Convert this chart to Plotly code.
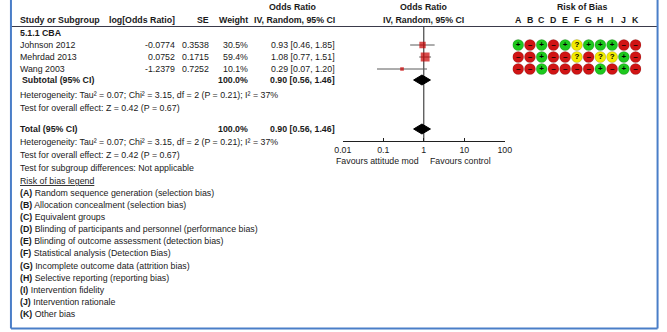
import plotly.graph_objects as go

W, H = 667, 332

# ---------------- data ----------------
group_label = "5.1.1 CBA"
studies = ["Johnson 2012", "Mehrdad 2013", "Wang 2003"]
log_or = [-0.0774, 0.0752, -1.2379]
se = [0.3538, 0.1715, 0.7252]
weight = [30.5, 59.4, 10.1]
or_est = [0.93, 1.08, 0.29]
ci_low = [0.46, 0.77, 0.07]
ci_high = [1.85, 1.51, 1.20]
subtotal = [0.90, 0.56, 1.46]   # estimate, low, high
total = [0.90, 0.56, 1.46]
subtotal_weight = 100.0
het_text = "Heterogeneity: Tau² = 0.07; Chi² = 3.15, df = 2 (P = 0.21); I² = 37%"
effect_text = "Test for overall effect: Z = 0.42 (P = 0.67)"
subgroup_text = "Test for subgroup differences: Not applicable"
axis_ticks = [0.01, 0.1, 1, 10, 100]
axis_tick_labels = ["0.01", "0.1", "1", "10", "100"]
favours_left = "Favours attitude mod"
favours_right = "Favours control"
rob_domains = ["A", "B", "C", "D", "E", "F", "G", "H", "I", "J", "K"]
rob = [
    ["+", "-", "+", "-", "+", "?", "+", "+", "+", "-", "-"],
    ["-", "-", "+", "-", "-", "?", "-", "?", "?", "+", "-"],
    ["-", "-", "+", "-", "-", "-", "-", "+", "-", "+", "-"],
]
legend_items = [
    "Random sequence generation (selection bias)",
    "Allocation concealment (selection bias)",
    "Equivalent groups",
    "Blinding of participants and personnel (performance bias)",
    "Blinding of outcome assessment (detection bias)",
    "Statistical analysis (Detection Bias)",
    "Incomplete outcome data (attrition bias)",
    "Selective reporting (reporting bias)",
    "Intervention fidelity",
    "Intervention rationale",
    "Other bias",
]

# ---------------- layout constants (pixels) ----------------
FONT = "Liberation Sans, Arial, sans-serif"
FS = 8.8
TXT = "#1a1a1a"
Y_HEAD1, Y_HEAD2, Y_GROUP = 7, 20, 33
Y_STUDY = [45, 57, 69]
Y_SUB, Y_HET, Y_EFF = 80, 95, 108
Y_TOT, Y_HET2, Y_EFF2, Y_SUBG, Y_LEG = 129, 142, 155, 168, 181
Y_ITEM0, ITEM_STEP = 193, 12.1
Y_AXIS = 141
X_LEFT = 10
X_LOG, X_SE, X_W, X_CI = 171, 206, 246, 335
ROB_COLORS = {"+": "#1ec81e", "-": "#d01414", "?": "#f2ea00"}
ROB_SYM = {"+": "+", "-": "–", "?": "?"}


def px(x):
    return x / W


def py(y):
    return 1 - y / H


annotations = []


def ann(text, x, y, anchor="left", bold=False, size=FS, color=TXT):
    if bold:
        text = "<b>" + text + "</b>"
    annotations.append(dict(
        text=text, x=px(x), y=py(y), xref="paper", yref="paper",
        xanchor=anchor, yanchor="middle", showarrow=False,
        font=dict(family=FONT, size=size, color=color), borderpad=0,
    ))


# headers
ann("Odds Ratio", 291, Y_HEAD1, "center", True)
ann("Odds Ratio", 425, Y_HEAD1, "center", True)
ann("Risk of Bias", 587, Y_HEAD1, "center", True)
ann("Study or Subgroup", X_LEFT, Y_HEAD2, "left", True)
ann("log[Odds Ratio]", X_LOG, Y_HEAD2, "right", True)
ann("SE", X_SE, Y_HEAD2, "right", True)
ann("Weight", X_W, Y_HEAD2, "right", True)
ann("IV, Random, 95% CI", X_CI, Y_HEAD2, "right", True)
ann("IV, Random, 95% CI", 425, Y_HEAD2, "center", True)
for d in rob_domains:
    annotations.append(dict(
        text="<b>" + d + "</b>", x=d, y=Y_HEAD2, xref="x2", yref="y",
        xanchor="center", yanchor="middle", showarrow=False,
        font=dict(family=FONT, size=FS, color=TXT)))

ann(group_label, X_LEFT, Y_GROUP, "left", True)
for i, s in enumerate(studies):
    y = Y_STUDY[i]
    ann(s, X_LEFT, y)
    ann(f"{log_or[i]:.4f}", X_LOG, y, "right")
    ann(f"{se[i]:.4f}", X_SE, y, "right")
    ann(f"{weight[i]:.1f}%", X_W, y, "right")
    ann(f"{or_est[i]:.2f} [{ci_low[i]:.2f}, {ci_high[i]:.2f}]", X_CI, y, "right")

ann("Subtotal (95% CI)", X_LEFT + 2, Y_SUB, "left", True)
ann(f"{subtotal_weight:.1f}%", X_W, Y_SUB, "right", True)
ann(f"{subtotal[0]:.2f} [{subtotal[1]:.2f}, {subtotal[2]:.2f}]", X_CI, Y_SUB, "right", True)
ann(het_text, X_LEFT, Y_HET)
ann(effect_text, X_LEFT, Y_EFF)

ann("Total (95% CI)", X_LEFT, Y_TOT, "left", True)
ann(f"{subtotal_weight:.1f}%", X_W, Y_TOT, "right", True)
ann(f"{total[0]:.2f} [{total[1]:.2f}, {total[2]:.2f}]", X_CI, Y_TOT, "right", True)
ann(het_text, X_LEFT, Y_HET2)
ann(effect_text, X_LEFT, Y_EFF2)
ann(subgroup_text, X_LEFT, Y_SUBG)
ann("<u>Risk of bias legend</u>", X_LEFT, Y_LEG)
for k, item in enumerate(legend_items):
    ann(f"<b>({rob_domains[k]})</b> {item}", X_LEFT, Y_ITEM0 + k * ITEM_STEP)

ann(favours_left, 421, 161, "right")
ann(favours_right, 430, 161, "left")

fig = go.Figure()

# reference line at OR = 1
fig.add_trace(go.Scatter(x=[1, 1], y=[27, Y_AXIS], mode="lines",
                         line=dict(color="#202020", width=1), hoverinfo="skip"))
# CIs and squares
for i in range(len(studies)):
    y = Y_STUDY[i]
    fig.add_trace(go.Scatter(x=[ci_low[i], ci_high[i]], y=[y, y], mode="lines",
                             line=dict(color="#5a5a5a", width=1), hoverinfo="skip"))
fig.add_trace(go.Scatter(
    x=or_est, y=Y_STUDY, mode="markers",
    marker=dict(symbol="square", color="#c80000", size=[1.15 * w ** 0.5 for w in weight],
                line=dict(width=0)), hoverinfo="skip"))

# diamonds
for est, yy in ((subtotal, Y_SUB), (total, Y_TOT)):
    fig.add_trace(go.Scatter(
        x=[est[1], est[0], est[2], est[0], est[1]],
        y=[yy, yy - 5, yy, yy + 5, yy], mode="lines", fill="toself",
        fillcolor="black", line=dict(color="black", width=1), hoverinfo="skip"))

# risk of bias circles
for r, row in enumerate(rob):
    fig.add_trace(go.Scatter(
        x=rob_domains, y=[Y_STUDY[r]] * len(row), xaxis="x2", yaxis="y",
        mode="markers+text", text=["<b>" + ROB_SYM[v] + "</b>" for v in row],
        textposition="middle center",
        textfont=dict(family=FONT, size=8, color="black"),
        marker=dict(symbol="circle", size=11, color=[ROB_COLORS[v] for v in row],
                    line=dict(width=0.6, color="rgba(0,0,0,0.25)")),
        hoverinfo="skip"))

BORDER = "#4a7ec8"
shapes = [
    dict(type="line", xref="paper", yref="paper", x0=px(2), x1=px(664), y0=py(26.5), y1=py(26.5),
         line=dict(color="#3a3a4a", width=1)),
    dict(type="line", xref="paper", yref="paper", x0=px(2), x1=px(2), y0=py(0), y1=py(328.5),
         line=dict(color=BORDER, width=2)),
    dict(type="line", xref="paper", yref="paper", x0=px(664.5), x1=px(664.5), y0=py(0), y1=py(328.5),
         line=dict(color=BORDER, width=2)),
    dict(type="line", xref="paper", yref="paper", x0=px(2), x1=px(664.5), y0=py(328.5), y1=py(328.5),
         line=dict(color=BORDER, width=2)),
]

fig.update_layout(
    width=W, height=H, margin=dict(l=0, r=0, t=0, b=0), autosize=False,
    paper_bgcolor="white", plot_bgcolor="rgba(0,0,0,0)",
    showlegend=False, annotations=annotations, shapes=shapes,
    font=dict(family=FONT, size=FS, color=TXT),
    xaxis=dict(type="log", range=[-2, 2], domain=[px(342), px(508)],
               anchor="free", position=py(Y_AXIS),
               showline=True, linecolor="#202020", linewidth=1,
               ticks="inside", ticklen=3, tickcolor="#202020",
               tickvals=axis_ticks, ticktext=axis_tick_labels,
               tickfont=dict(family=FONT, size=FS, color=TXT),
               showgrid=False, zeroline=False, fixedrange=True),
    yaxis=dict(range=[H, 0], domain=[0, 1], visible=False, fixedrange=True),
    xaxis2=dict(type="category", categoryorder="array", categoryarray=rob_domains,
                range=[-0.5, len(rob_domains) - 0.5],
                domain=[px(515.7), px(648)], anchor="y", visible=False),
)

fig.write_html(
    "out.html",
    config={"displayModeBar": False, "staticPlot": True, "responsive": False},
    post_script="document.body.style.margin='0';document.body.style.overflow='hidden';"
                "document.documentElement.style.overflow='hidden';",
)
